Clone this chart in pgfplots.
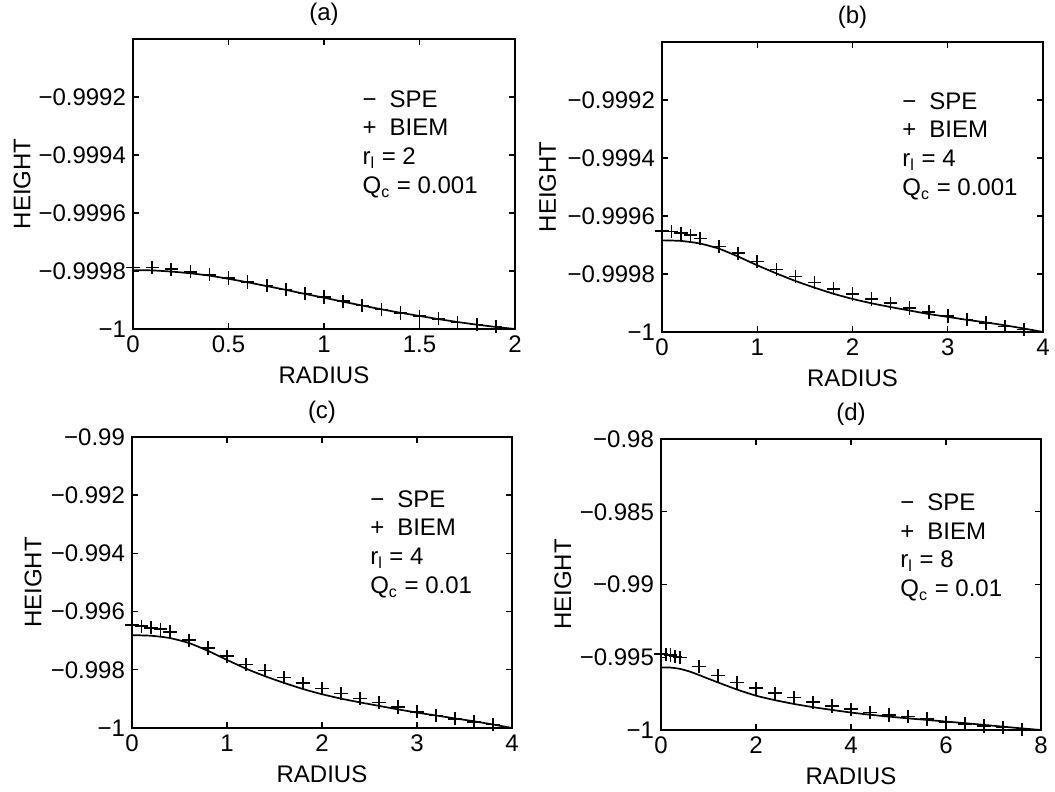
\documentclass[border=0pt]{standalone}
\usepackage{fontspec}
\setmainfont{Liberation Sans}
\usepackage{pgfplots}
\pgfplotsset{compat=1.18}
\newcommand{\myfont}{\fontsize{12pt}{14.4pt}\selectfont}
\tikzset{info/.style={anchor=north west, inner sep=0pt, align=left, font=\myfont}}
\pgfplotsset{
  every axis title/.style={at={(axis description cs:0.5,1.085)}, anchor=center, font=\myfont},
  every axis/.append style={
    scale only axis,
    axis line style={line width=0.9pt},
    every tick/.style={black, line width=0.7pt},
    major tick length=3pt,
    tick align=inside,
    tick pos=both,
    tick label style={font=\myfont},
    label style={font=\myfont},
    xlabel=RADIUS, ylabel=HEIGHT,
    xlabel style={at={(axis description cs:0.5,-0.16)}, anchor=center},
    /pgf/number format/assume math mode=true,
  },
  spe/.style={black, line width=0.85pt, no markers, smooth, tension=0.4},
  biem/.style={black, only marks, mark=+, mark size=3.3pt, mark options={line width=0.8pt}},
}
\begin{document}
\begin{tikzpicture}
\useasboundingbox (0,0) rectangle (527.5pt,396pt);
% ---------------- (a)
\begin{axis}[at={(66.5pt,231.5pt)}, anchor=south west, width=191pt, height=145pt,
  title={(a)}, xmin=0, xmax=2, ymin=-1, ymax=-0.999,
  xtick={0,0.5,1,1.5,2}, xticklabels={0,0.5,1,1.5,2},
  ytick={-1,-0.9998,-0.9996,-0.9994,-0.9992},
  yticklabels={−1,−0.9998,−0.9996,−0.9994,−0.9992},
  ylabel style={at={(axis description cs:-0.29,0.5)}, anchor=center}]
\addplot[spe] table {
0 -0.999797
0.1 -0.999798
0.2 -0.999802
0.3 -0.999808
0.4 -0.999816
0.5 -0.999827
0.6 -0.999839
0.7 -0.999852
0.8 -0.999865
0.9 -0.999879
1.0 -0.999892
1.1 -0.999906
1.2 -0.999919
1.3 -0.999932
1.4 -0.999944
1.5 -0.999955
1.6 -0.999966
1.7 -0.999976
1.8 -0.999985
1.9 -0.999993
2.0 -1.0
};
\addplot[biem] table {
0 -0.999788
0.1 -0.999788
0.2 -0.999794
0.3 -0.999803
0.4 -0.999813
0.5 -0.999824
0.6 -0.999838
0.7 -0.999850
0.8 -0.999864
0.9 -0.999877
1.0 -0.999890
1.1 -0.999904
1.2 -0.999919
1.3 -0.999933
1.4 -0.999945
1.5 -0.999956
1.6 -0.999965
1.7 -0.999977
1.8 -0.999985
1.9 -0.999991
};
\node[info] at (rel axis cs:0.60,0.824) {\makebox[13.5pt][l]{−}SPE\\\makebox[13.5pt][l]{+}BIEM\\r\textsubscript{l} = 2\\Q\textsubscript{c} = 0.001};
\end{axis}
% ---------------- (b)
\begin{axis}[at={(331pt,230pt)}, anchor=south west, width=190.5pt, height=145pt,
  title={(b)}, xmin=0, xmax=4, ymin=-1, ymax=-0.999,
  xtick={0,1,2,3,4}, xticklabels={0,1,2,3,4},
  ytick={-1,-0.9998,-0.9996,-0.9994,-0.9992},
  yticklabels={−1,−0.9998,−0.9996,−0.9994,−0.9992},
  ylabel style={at={(axis description cs:-0.30,0.5)}, anchor=center}]
\addplot[spe] table {
0 -0.999684
0.2 -0.999686
0.4 -0.999695
0.6 -0.999713
0.8 -0.999740
1.0 -0.999770
1.2 -0.999798
1.4 -0.999824
1.6 -0.999847
1.8 -0.999868
2.0 -0.999886
2.2 -0.999901
2.4 -0.999914
2.6 -0.999926
2.8 -0.999938
3.0 -0.999948
3.2 -0.999958
3.4 -0.999967
3.6 -0.999977
3.8 -0.999988
4.0 -1.0
};
\addplot[biem] table {
0 -0.999651
0.1 -0.999654
0.2 -0.999659
0.3 -0.999666
0.4 -0.999678
0.6 -0.999705
0.8 -0.999728
1.0 -0.999757
1.2 -0.999785
1.4 -0.999808
1.6 -0.999829
1.8 -0.999851
2.0 -0.999869
2.2 -0.999886
2.4 -0.999901
2.6 -0.999917
2.8 -0.999931
3.0 -0.999945
3.2 -0.999957
3.4 -0.999969
3.6 -0.999981
3.8 -0.999991
};
\node[info] at (rel axis cs:0.63,0.828) {\makebox[13.5pt][l]{−}SPE\\\makebox[13.5pt][l]{+}BIEM\\r\textsubscript{l} = 4\\Q\textsubscript{c} = 0.001};
\end{axis}
% ---------------- (c)
\begin{axis}[at={(66pt,32pt)}, anchor=south west, width=190pt, height=145.5pt,
  title={(c)}, xmin=0, xmax=4, ymin=-1, ymax=-0.99,
  xtick={0,1,2,3,4}, xticklabels={0,1,2,3,4},
  ytick={-1,-0.998,-0.996,-0.994,-0.992,-0.99},
  yticklabels={−1,−0.998,−0.996,−0.994,−0.992,−0.99},
  ylabel style={at={(axis description cs:-0.26,0.5)}, anchor=center}]
\addplot[spe] table {
0 -0.99681
0.2 -0.99683
0.4 -0.99691
0.6 -0.99708
0.8 -0.99735
1.0 -0.99766
1.2 -0.99796
1.4 -0.99822
1.6 -0.99845
1.8 -0.99866
2.0 -0.99884
2.2 -0.99899
2.4 -0.99912
2.6 -0.99924
2.8 -0.99936
3.0 -0.99947
3.2 -0.99957
3.4 -0.99967
3.6 -0.99977
3.8 -0.99988
4.0 -1.0
};
\addplot[biem] table {
0 -0.996464
0.1 -0.996499
0.2 -0.996557
0.3 -0.996603
0.4 -0.996696
0.6 -0.996986
0.8 -0.997252
1.0 -0.997530
1.2 -0.997820
1.4 -0.998029
1.6 -0.998261
1.8 -0.998458
2.0 -0.998643
2.2 -0.998817
2.4 -0.998980
2.6 -0.999130
2.8 -0.999281
3.0 -0.999443
3.2 -0.999571
3.4 -0.999687
3.6 -0.999791
3.8 -0.999884
};
\node[info] at (rel axis cs:0.626,0.818) {\makebox[13.5pt][l]{−}SPE\\\makebox[13.5pt][l]{+}BIEM\\r\textsubscript{l} = 4\\Q\textsubscript{c} = 0.01};
\end{axis}
% ---------------- (d)
\begin{axis}[at={(330.5pt,31pt)}, anchor=south west, width=190pt, height=145.5pt,
  title={(d)}, xmin=0, xmax=8, ymin=-1, ymax=-0.98,
  xtick={0,2,4,6,8}, xticklabels={0,2,4,6,8},
  ytick={-1,-0.995,-0.99,-0.985,-0.98},
  yticklabels={−1,−0.995,−0.99,−0.985,−0.98},
  ylabel style={at={(axis description cs:-0.258,0.5)}, anchor=center}]
\addplot[spe] table {
0 -0.99570
0.2 -0.99571
0.4 -0.99580
0.6 -0.99598
0.8 -0.99622
1.0 -0.99648
1.2 -0.99673
1.6 -0.99722
2.0 -0.99764
2.4 -0.99795
2.8 -0.99821
3.2 -0.99843
3.6 -0.99862
4.0 -0.99880
4.4 -0.99895
4.8 -0.99908
5.2 -0.99920
5.6 -0.99931
6.0 -0.99942
6.4 -0.99953
6.8 -0.99965
7.2 -0.99977
7.6 -0.99989
8.0 -1.0
};
\addplot[biem] table {
0 -0.994759
0.1 -0.994805
0.2 -0.994851
0.3 -0.994943
0.4 -0.995011
0.8 -0.995632
1.2 -0.996253
1.6 -0.996736
2.0 -0.997126
2.4 -0.997471
2.8 -0.997770
3.2 -0.998092
3.6 -0.998345
4.0 -0.998575
4.4 -0.998805
4.8 -0.998966
5.2 -0.999080
5.6 -0.999241
6.0 -0.999471
6.4 -0.999586
6.8 -0.999724
7.2 -0.999839
7.6 -0.999954
};
\node[info] at (rel axis cs:0.629,0.814) {\makebox[13.5pt][l]{−}SPE\\\makebox[13.5pt][l]{+}BIEM\\r\textsubscript{l} = 8\\Q\textsubscript{c} = 0.01};
\end{axis}
\end{tikzpicture}
\end{document}
